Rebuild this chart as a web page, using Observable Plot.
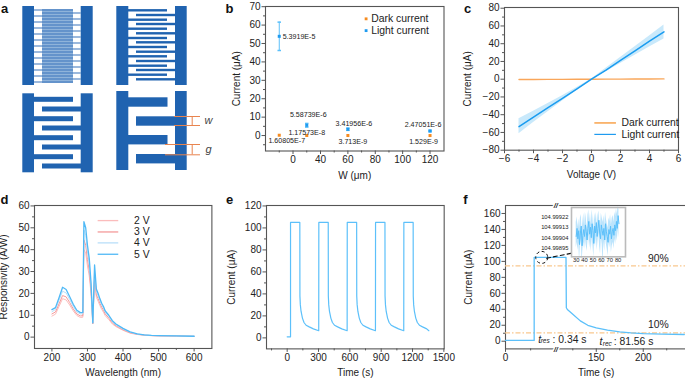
<!DOCTYPE html>
<html><head><meta charset="utf-8">
<script src="https://cdn.jsdelivr.net/npm/d3@7"></script>
<script src="https://cdn.jsdelivr.net/npm/@observablehq/plot@0.6"></script>
<style>
html,body{margin:0;padding:0;background:#fff}
#page{position:relative;width:685px;height:379px;overflow:hidden;background:#fff}
#page svg{position:absolute;background:transparent;overflow:visible}
</style></head><body><div id="page"></div>
<script>
const FONT = "'Liberation Sans', Arial, sans-serif";
const INK = "#222", FRAME = "#555";
const ORANGE = "#f68b1f", BLUE = "#1f9bf0", LINEBLUE = "#5cc0fa";

// ---------- panel a (device sketches) ----------
const letters = ["a","b","c","d","e","f"];
const padsA = [[22.3,34,6,85],[80.7,92.7,6,85],[116.3,128.3,6,85],[175,186.7,6,85],
  [22.3,34,93.3,172.3],[80.7,92.7,93.3,172.3],[116.3,128.3,91,170],[175,186.7,91,170]];
const fineLeft  = [10,16,22,28,34,40,46,52,58,64,70,76,82];
const fineRight = [13,19,25,31,37,43,49,55,61,67,73,79];
const smallLeft = [10.3,19.7,28.7,38,47,56.3,65.7,74.7];
const smallRight= [15,24,33.3,42.3,51.7,61,70,79.3];
const midLeft   = [99.3,118.7,137.7,156.7];
const midRight  = [109,128,147,166];
const wideLeft  = [102,139.7];
const wideRight = [121,158.7];
// ---------- panel b ----------
const widthTicksB = [0,40,60,80,100,120];
const widthMinorB = [-20,20,50,70,90,110];
const widths = [-20,20,60,120];
const darkB  = [0.16,0.0118,0.0037,0.0015];
const lightB = [53.9,5.57,3.42,2.47];
const errB   = [7.7,1.0,0.6,0.4];
const labelsLightB = ["5.3919E-5","5.58739E-6","3.41956E-6","2.47051E-6"];
const labelsDarkB  = ["1.60805E-7","1.17573E-8","3.713E-9","1.529E-9"];
// ---------- panel c ----------
const volts = [-5,-4,-3,-2,-1,0,1,2,3,4,5];
const darkC  = [-0.35,-0.3,-0.22,-0.15,-0.08,0,0.07,0.14,0.2,0.27,0.32];
const lightC = [-53.4,-42.6,-32,-21.6,-10.8,0,10.2,21.2,32,42.8,53.4];
const upperC = [-44.6,-36.2,-27.4,-18.6,-9.4,0.3,12.2,24.4,36.6,48.8,61.2];
const lowerC = [-61.4,-48.8,-36.6,-24.6,-12.4,-0.3,8.4,17.6,27,36.4,45.4];
// ---------- panel d ----------
const wave = [200,210,220,230,240,250,260,270,280,287,290,295,300,305,310,315,320,325,330,335,340,345,350,360,370,380,400,420,440,460,480,500,550,600];
const resp2 = [9.6,10.5,14,17.6,17,14.7,12,9.9,9,9.1,40,38.5,32.5,28,20,6,26,18.2,16.4,14.4,12.7,11.4,9.8,8,6,4.8,3.1,1.8,1.2,.85,.65,.55,.45,.34];
const resp3 = [10.6,11.5,15.2,19,18.4,15.8,12.9,10.6,9.7,9.8,44.5,42,35.5,30.5,21.6,6.3,28,19.4,17.6,15.5,13.7,12.3,10.6,8.7,6.5,5.2,3.4,2,1.3,.9,.7,.6,.48,.36];
const resp4 = [11.6,12.6,16.8,21,20.2,17.2,14,11.5,10.6,10.7,49,46.5,39,33.5,23.4,6.5,30.5,20.8,18.8,16.6,14.6,13.2,11.4,9.4,7,5.6,3.7,2.2,1.4,.95,.75,.65,.5,.38];
const resp5 = [12.6,13.5,18,22.8,21.8,18.5,15,12.3,11.2,11.3,52.8,50,42,36,25,6.5,33,22,20,17.5,15.5,14,12,10,7.5,6,4,2.4,1.5,1,.8,.7,.55,.4];
const voltNames = ["2 V","3 V","4 V","5 V"];
const voltColors = ["#fbbcbc","#f49a9a","#b9dff9","#4fb9f6"];
// ---------- panel e ----------
const timeE = [0,32,32,121,122,126,133,146,161,181,211,251,302,
  303,393,394,398,405,418,433,453,483,523,574,
  575,665,666,670,677,690,705,725,755,795,845,
  846,936,937,941,948,961,976,996,1026,1066,1116,
  1117,1206,1207,1211,1218,1231,1246,1266,1296,1336,1356];
const currentE = [1,1,105,105,38,30,24,18,14,11.5,10,8.2,6.5,
  105,105,38,30,24,18,14,11.5,10,8.2,6.5,
  105,105,38,30,24,18,14,11.5,10,8.2,6.5,
  105,105,38,30,24,18,14,11.5,10,8.2,6.5,
  105,105,38,30,24,18,14,11.5,10,8.2,6.5];
// ---------- panel f ----------
const timeF = [0,57,57,115,115.5,117,125,133,141,150,162,175,187,200,220,243.7];
const currentF = [1,1,105,105,42,39.7,33.8,25.5,20,16.7,13.8,11.7,10.4,9.6,9,8.4];
const insetTail = [905,912,903,910,898,908,914,897,906,911,905,915,909,902,912,918,907,913,904,916,910,899,914,908,917,905,912,919,908,903,915,910,906,912,902,916,909,905,900,911,907,914,903,909,912,906,915,910,918,912,923,916];
const insetHi = [917,922,913,920,912,921,924,910,918,925,914,926,921,912,923,928,917,925,915,928,921,911,925,919,926,915,923,927,919,914,925,921,917,923,914,926,920,916,912,921,918,924,915,921,923,917,926,922,929,924,931,928];
const insetLo = [895,900,893,899,884,897,903,882,894,900,894,903,897,892,901,906,895,901,892,904,897,887,902,896,905,893,901,908,896,890,904,898,880,901,892,905,898,894,888,900,895,902,891,897,900,894,903,898,906,901,911,904];

// ---------- helpers ----------
const page = document.getElementById("page");
function axes(c){
  const base = {tickSize:3.5, tickPadding:1.5, stroke:FRAME, fill:INK, fontSize:10};
  const m = [];
  m.push(Plot.axisY(c.yMinor,{...base,tickSize:2,tickFormat:()=>"",label:null}));
  m.push(Plot.axisX(c.xMinor,{...base,tickSize:2,tickFormat:()=>"",label:null}));
  m.push(Plot.axisY(c.yTicks,{...base,label:c.yLabel,labelAnchor:"center",labelArrow:"none",labelOffset:c.yOff}));
  m.push(Plot.axisX(c.xTicks,{...base,tickFormat:c.xFormat,label:c.xLabel,labelAnchor:"center",labelArrow:"none",labelOffset:c.xOff}));
  m.push(Plot.frame({stroke:FRAME,strokeWidth:1.1}));
  return m;
}
function panel(c){
  const ml=c.ml??44, mr=c.mr??8, mt=c.mt??4, mb=c.mb??34;
  const svg = Plot.plot({
    width:c.x1-c.x0+ml+mr, height:c.y1-c.y0+mt+mb,
    marginLeft:ml, marginRight:mr, marginTop:mt, marginBottom:mb,
    x:c.x, y:c.y, style:{fontFamily:FONT,fontSize:"10.4px",color:INK,background:"transparent",overflow:"visible"},
    marks:c.marks
  });
  svg.style.left=(c.x0-ml)+"px"; svg.style.top=(c.y0-mt)+"px";
  page.appendChild(svg);
}
const tx=(s,x,y,o={})=>Plot.text([s],{x:()=>x,y:()=>y,text:d=>d,fill:INK,fontSize:10.4,textAnchor:"start",...o});

// ---------- sketch + letters ----------
const rects=(arr,f)=>Plot.rect(arr,{x1:d=>d[0],x2:d=>d[1],y1:d=>d[2],y2:d=>d[3],fill:f});
const fingers=(ys,x1,x2,t)=>ys.map(v=>[x1,x2,v-t/2,v+t/2]);
const SK="#2063b0", OR="#e8844f";
{
  const svg=Plot.plot({width:685,height:379,margin:0,
    x:{domain:[0,685],axis:null},y:{domain:[0,379],range:[0,379],axis:null},
    style:{fontFamily:FONT,background:"transparent"},
    marks:[
      rects([[42,73,9,83]],"#8fb3da"),
      rects(padsA,SK),
      rects(fingers(fineLeft,34,73,1),"#3a75bb"),
      rects(fingers(fineRight,42,80.7,1),"#3a75bb"),
      rects(fingers(smallLeft,128,167,2.4),SK),
      rects(fingers(smallRight,136,175,2.4),SK),
      rects(fingers(midLeft,34,73,5),SK),
      rects(fingers(midRight,42,81,5),SK),
      rects(fingers(wideLeft,128,167.5,9.4),SK),
      rects(fingers(wideRight,136,175,9.4),SK),
      Plot.ruleY([116,125],{x1:174,x2:200,stroke:OR,strokeWidth:1}),
      Plot.ruleY([144,154.3],{x1:165,x2:200,stroke:OR,strokeWidth:1}),
      Plot.ruleX([191.7],{y1:116,y2:125,stroke:OR,strokeWidth:1}),
      Plot.ruleX([191.7],{y1:144,y2:154.3,stroke:OR,strokeWidth:1}),
      Plot.text(["w"],{x:()=>208,y:()=>120,text:d=>d,fontStyle:"italic",fontSize:11,fill:"#444"}),
      Plot.text(["g"],{x:()=>208,y:()=>149,text:d=>d,fontStyle:"italic",fontSize:11,fill:"#444"}),
      Plot.text(letters,{x:(d,i)=>[4,229,467,4,229,465][i],y:(d,i)=>[8,8,8,199.5,199.5,199.5][i],text:d=>d,fontWeight:"bold",fontSize:13,fill:"#111"})
    ]});
  svg.style.left="0";svg.style.top="0";page.appendChild(svg);
}

// ---------- b: the printed axis is uneven, so positions pass through a broken-axis map ----------
const capSym={draw(c,s){const r=Math.sqrt(s);c.moveTo(-r,0);c.lineTo(r,0);}};
const bp=d3.scaleLinear().domain([-40,0,40,130.2]).range([264.5,292,319.5,443]);
panel({x0:264.5,x1:443,y0:6,y1:150.5,
  x:{domain:[264.5,443]},y:{domain:[-8.4,70.1]},
  marks:[
   ...axes({xTicks:widthTicksB.map(bp),xMinor:widthMinorB.map(bp),yTicks:d3.ticks(0,70,7),yMinor:[5,15,25,35,45,55,65,-5],
     xLabel:"W (μm)",yLabel:"Current (μA)",yOff:32.5,xOff:27.5,xFormat:p=>String(Math.round(bp.invert(p)))}),
   Plot.ruleX(widths,{x:d=>bp(d),y1:(d,i)=>lightB[i]-errB[i],y2:(d,i)=>lightB[i]+errB[i],stroke:LINEBLUE,strokeWidth:1}),
   Plot.dot(widths,{x:d=>bp(d),y:(d,i)=>lightB[i]+errB[i],symbol:capSym,r:1,stroke:LINEBLUE,fill:"none"}),
   Plot.dot(widths,{x:d=>bp(d),y:(d,i)=>lightB[i]-errB[i],symbol:capSym,r:1,stroke:LINEBLUE,fill:"none"}),
   Plot.dot(widths,{x:d=>bp(d),y:(d,i)=>darkB[i],symbol:"square",r:1.7,fill:ORANGE}),
   Plot.dot(widths,{x:d=>bp(d),y:(d,i)=>lightB[i],symbol:"square",r:1.7,fill:BLUE}),
   tx(labelsLightB[0],bp(-20),53.9,{dx:3.4,fontSize:7.1,textAnchor:"start"}),
   tx(labelsLightB[1],bp(20),5.57,{dx:1.5,dy:-10.5,fontSize:7.1,textAnchor:"middle"}),
   tx(labelsLightB[2],bp(60),3.42,{dx:6,dy:-6,fontSize:7.1,textAnchor:"middle"}),
   tx(labelsLightB[3],bp(120),2.47,{dx:-7,dy:-6,fontSize:7.1,textAnchor:"middle"}),
   tx(labelsDarkB[0],bp(-20),0.16,{dx:7.5,dy:5.5,fontSize:7.1,textAnchor:"middle"}),
   tx(labelsDarkB[1],bp(20),0.01,{dy:-3,fontSize:7.1,textAnchor:"middle"}),
   tx(labelsDarkB[2],bp(60),0,{dx:5,dy:5.7,fontSize:7.1,textAnchor:"middle"}),
   tx(labelsDarkB[3],bp(120),0,{dx:-6.5,dy:5.7,fontSize:7.1,textAnchor:"middle"}),
   Plot.dot([63.4],{x:()=>bp(73.3),y:d=>d,symbol:"square",r:1.6,fill:ORANGE}),
   Plot.dot([57],{x:()=>bp(73.3),y:d=>d,symbol:"square",r:1.6,fill:BLUE}),
   tx("Dark current",bp(77),63.4),
   tx("Light current",bp(77),57)
  ]});

// ---------- c ----------
panel({x0:503.7,x1:677.7,y0:7.3,y1:150,mr:6,
  x:{domain:[-6,6]},y:{domain:[-80,80.8]},
  marks:[
   Plot.areaY(volts,{x:d=>d,y1:(d,i)=>lowerC[i],y2:(d,i)=>upperC[i],fill:"#c9e9fb"}),
   ...axes({xTicks:[-6,-4,-2,0,2,4,6],xMinor:[-5,-3,-1,1,3,5],yTicks:[-80,-60,-40,-20,0,20,40,60,80],
     yMinor:[-70,-50,-30,-10,10,30,50,70],xLabel:"Voltage (V)",yLabel:"Current (μA)",yOff:40.7,xOff:27.5}),
   Plot.line(volts,{x:d=>d,y:(d,i)=>darkC[i],stroke:"#f9a65a",strokeWidth:1.4}),
   Plot.line(volts,{x:d=>d,y:(d,i)=>lightC[i],stroke:"#1a9cf0",strokeWidth:1.5}),
   Plot.ruleY([-49.3],{x1:0.23,x2:1.72,stroke:ORANGE,strokeWidth:1.2}),
   Plot.ruleY([-62.2],{x1:0.23,x2:1.72,stroke:BLUE,strokeWidth:1.2}),
   tx("Dark current",2.07,-49.3),
   tx("Light current",2.07,-62.2)
  ]});

// ---------- d ----------
const lineD=(vals,col,w=1)=>Plot.line(wave,{x:d=>d,y:(d,i)=>vals[i],stroke:col,strokeWidth:w});
panel({x0:34.3,x1:211.7,y0:205.3,y1:348.3,
  x:{domain:[151,650]},y:{domain:[-5.2,60.2]},
  marks:[
   ...axes({xTicks:[200,300,400,500,600],xMinor:[250,350,450,550],yTicks:[0,10,20,30,40,50,60],yMinor:[5,15,25,35,45,55],
     xLabel:"Wavelength (nm)",yLabel:"Responsivity (A/W)",yOff:34.3,xOff:27.5}),
   lineD(resp2,voltColors[0]),lineD(resp3,voltColors[1]),lineD(resp4,voltColors[2]),lineD(resp5,voltColors[3],1.3),
   Plot.ruleY([53.3,48.1,43.1,37.9],{x1:330,x2:388,stroke:(d,i)=>voltColors[i],strokeWidth:1.3}),
   ...voltNames.map((n,i)=>tx(n,431,[53.3,48.1,43.1,37.9][i]))
  ]});

// ---------- e ----------
panel({x0:266,x1:443.7,y0:205.3,y1:348.7,
  x:{domain:[-198,1503]},y:{domain:[-10,120.4]},
  marks:[
   ...axes({xTicks:[0,300,600,900,1200,1500],xMinor:[150,450,750,1050,1350,-150],yTicks:[0,20,40,60,80,100,120],
     yMinor:[10,30,50,70,90,110],xLabel:"Time (s)",yLabel:"Current (μA)",yOff:39,xOff:27.5,xFormat:d=>String(d)}),
   Plot.line(timeE,{x:d=>d,y:(d,i)=>currentE[i],stroke:LINEBLUE,strokeWidth:1.2})
  ]});

// ---------- f: broken time axis, positions pass through a broken-axis map ----------
const dashOrange={stroke:"#f9c88e",strokeWidth:1.4,strokeDasharray:"5 2 1.5 2"};
const fp=d3.scaleLinear().domain([0,100,125,243.7]).range([504.7,555,572,683.5]);
panel({x0:504.7,x1:686,y0:205.3,y1:348.7,mr:0,
  x:{domain:[504.7,686]},y:{domain:[-9.6,170]},
  marks:[
   ...axes({xTicks:[0,150,200].map(fp),xMinor:[50,125,175,225].map(fp),yTicks:[0,20,40,60,80,100,120,140,160],
     yMinor:[10,30,50,70,90,110,130,150],xLabel:"Time (s)",yLabel:"Current (μA)",yOff:40.7,xOff:27.5,xFormat:p=>String(Math.round(fp.invert(p)))}),
   Plot.ruleY([94.4,10.4],{...dashOrange}),
   Plot.line(timeF,{x:d=>fp(d),y:(d,i)=>currentF[i],stroke:LINEBLUE,strokeWidth:1.3}),
   Plot.dot([105],{x:()=>fp(72),y:d=>d,r:6,stroke:"#111",strokeWidth:1,strokeDasharray:"3 2.5",fill:"none"}),
   Plot.line([[81.5,104],[122,110]],{x:d=>fp(d[0]),y:d=>d[1],stroke:"#111",strokeWidth:1.1,strokeDasharray:"4 3"}),
   Plot.text(["//"],{x:()=>fp(100),y:()=>170,text:d=>d,fontSize:7.5,fontStyle:"italic",fontWeight:"bold",fill:INK,stroke:"#fff",strokeWidth:3,paintOrder:"stroke"}),
   Plot.text(["//"],{x:()=>fp(100),y:()=>-9.6,dy:1,text:d=>d,fontSize:7.5,fontStyle:"italic",fontWeight:"bold",fill:INK,stroke:"#fff",strokeWidth:3,paintOrder:"stroke"}),
   tx("90%",fp(216),103.6,{textAnchor:"middle"}),
   tx("10%",fp(216),20.5,{textAnchor:"middle"}),
   tx("t",fp(68),2,{fontStyle:"italic",textAnchor:"middle"}),
   tx("res",fp(70),0,{fontStyle:"italic",fontSize:6.5}),
   tx(": 0.34 s",fp(93.4),2.5),
   tx("t",fp(155),-0.8,{fontStyle:"italic",textAnchor:"middle"}),
   tx("rec",fp(157),-3,{fontStyle:"italic",fontSize:6.5}),
   tx(": 81.56 s",fp(168.5),-0.8)
  ]});

// ---------- f inset ----------
panel({x0:571,x1:625,y0:206.7,y1:256,ml:40,mr:2,mt:2,mb:10,
  x:{domain:[24.4,88.8]},y:{domain:[104.998875,104.9993]},
  marks:[
   Plot.areaY(insetTail,{x:(d,i)=>30+i,y1:(d,i)=>104.99+insetLo[i]*1e-5,y2:(d,i)=>104.99+insetHi[i]*1e-5,fill:"#bce4fc"}),
   Plot.line(insetTail,{x:(d,i)=>30+i,y:d=>104.99+d*1e-5,stroke:"#5cc0fa",strokeWidth:1}),
   Plot.axisY([104.99895,104.99904,104.99913,104.99922],{tickSize:0,tickPadding:3,fontSize:5.8,tickFormat:d=>d.toFixed(5),label:null,fill:INK}),
   Plot.axisX([30,40,50,60,70,80],{tickSize:0,tickPadding:1,fontSize:5.8,label:null,fill:INK,tickFormat:d=>String(d)}),
   Plot.frame({stroke:"#bbb",strokeWidth:1.6})
  ]});
</script></body></html>
